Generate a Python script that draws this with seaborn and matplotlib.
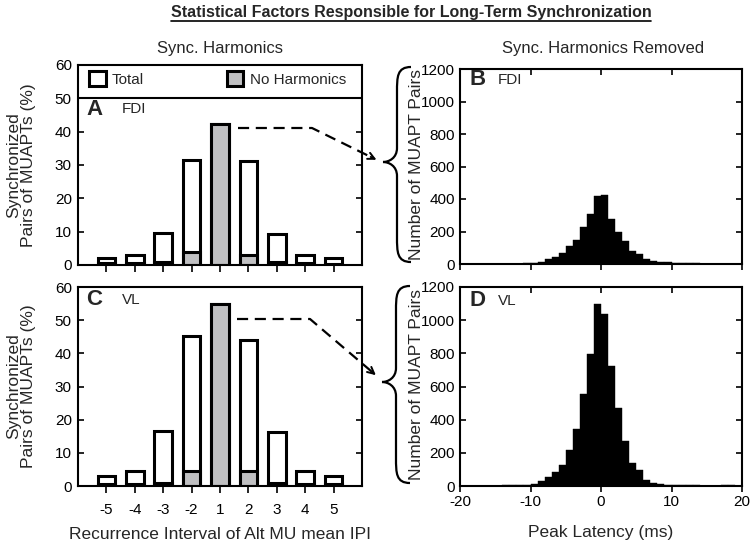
import numpy as np
import pandas as pd
import matplotlib
matplotlib.use('Agg')
import matplotlib.pyplot as plt
import seaborn as sns
from matplotlib.patches import Patch, PathPatch, FancyArrowPatch
from matplotlib.path import Path
from matplotlib.lines import Line2D

# ── data ─────────────────────────────────────────────────────────────────
intervals = ['-5', '-4', '-3', '-2', '1', '2', '3', '4', '5']
fdi_total = [2.2, 2.9, 9.6, 31.5, 42.2, 31.2, 9.3, 3.1, 2.0]
fdi_noharm = [0.6, 0.6, 0.9, 3.8, 42.2, 3.0, 0.9, 0.7, 0.4]
vl_total = [3.0, 4.5, 16.6, 45.2, 55.0, 44.0, 16.2, 4.5, 3.0]
vl_noharm = [0.5, 0.6, 1.0, 4.6, 55.0, 4.4, 1.0, 0.6, 0.5]

lat_left_edges = list(range(-20, 20))   # 1 ms bins
fdi_counts = [3, 3, 3, 2, 2, 2, 2, 3, 3, 4,
              6, 14, 28, 44, 66, 110, 146, 230, 306, 416,
              422, 276, 196, 142, 82, 62, 32, 20, 14, 10,
              6, 5, 4, 4, 3, 3, 3, 2, 2, 2]
vl_counts = [3, 3, 3, 3, 3, 3, 4, 4, 8, 6,
             14, 30, 54, 85, 127, 219, 342, 557, 793, 1096,
             1040, 722, 471, 270, 141, 95, 38, 20, 14, 8,
             6, 5, 8, 4, 3, 3, 3, 4, 4, 3]

sns.set_style('ticks')
plt.rcParams['font.family'] = ['Liberation Sans', 'DejaVu Sans']
plt.rcParams['axes.edgecolor'] = 'black'
plt.rcParams['axes.linewidth'] = 1.5
plt.rcParams['axes.unicode_minus'] = False
plt.rcParams['xtick.color'] = 'black'
plt.rcParams['ytick.color'] = 'black'

W, H = 750, 544
fig = plt.figure(figsize=(7.5, 5.44), dpi=100)


def px(x, y):
    return (x / W, 1 - y / H)


axA = fig.add_axes([78 / W, 1 - 265 / H, 284 / W, 200 / H])
axC = fig.add_axes([78 / W, 1 - 486 / H, 284 / W, 199 / H])
axB = fig.add_axes([460 / W, 1 - 264 / H, 282 / W, 195 / H])
axD = fig.add_axes([460 / W, 1 - 486 / H, 282 / W, 199 / H])

gray = '#c0c0c2'


# --- bar panels (A, C) ---
def bar_panel(ax, total, noharm, show_x):
    sns.barplot(x=intervals, y=total, order=intervals, color='white',
                edgecolor='black', linewidth=2.2, width=0.62, saturation=1,
                errorbar=None, ax=ax)
    sns.barplot(x=intervals, y=noharm, order=intervals, color=gray,
                edgecolor='black', linewidth=2.2, width=0.62, saturation=1,
                errorbar=None, ax=ax)
    ax.set_xlim(-1, 9)
    ax.set_ylim(0, 60)
    ax.set_yticks(range(0, 61, 10))
    ax.tick_params(axis='y', direction='in', left=True, right=True,
                   length=4, width=1.2, pad=4.5, labelsize=11)
    ax.tick_params(axis='x', direction='out', length=5, width=1.2,
                   pad=7, labelsize=11, labelbottom=show_x)
    ax.set_ylabel('Synchronized\nPairs of MUAPTs (%)', fontsize=12.5,
                  va='center', linespacing=1.05)
    ax.yaxis.set_label_coords(-0.2, 0.5)
    ax.set_xlabel('')


bar_panel(axA, fdi_total, fdi_noharm, False)
bar_panel(axC, vl_total, vl_noharm, True)
axC.set_xlabel('Recurrence Interval of Alt MU mean IPI', fontsize=12.5, va='center')
axC.xaxis.set_label_coords(0.5, -0.246)

# legend strip on top of panel A
axA.axhline(50, color='black', lw=1.5)
handles = [Patch(facecolor='white', edgecolor='black', linewidth=2.2, label='Total'),
           Patch(facecolor=gray, edgecolor='black', linewidth=2.2, label='No Harmonics')]
axA.legend(handles=handles, ncol=2, loc='center left', bbox_to_anchor=(0.039, 0.93),
           frameon=False, borderpad=0, borderaxespad=0, handlelength=1.1,
           handleheight=1.1, handletextpad=0.4, columnspacing=5.4, fontsize=11)


# --- histogram panels (B, D) ---
def hist_panel(ax, counts, show_x):
    df = pd.DataFrame({'latency': [e + 0.5 for e in lat_left_edges], 'n': counts})
    sns.histplot(data=df, x='latency', weights='n', binwidth=1, binrange=(-20, 20),
                 color='black', alpha=1, edgecolor='black', linewidth=0.3, ax=ax)
    ax.set_xlim(-20, 20)
    ax.set_ylim(0, 1200)
    ax.set_yticks(range(0, 1201, 200))
    ax.set_xticks(range(-20, 21, 10))
    ax.tick_params(axis='y', direction='in', left=True, right=True,
                   length=4, width=1.2, pad=3.5, labelsize=11)
    ax.tick_params(axis='x', direction='out', length=4, width=1.2,
                   pad=2.5, labelsize=11, labelbottom=show_x)
    sec = ax.secondary_xaxis('top')
    sec.set_xticks(range(-20, 21, 10))
    sec.tick_params(direction='in', length=4, width=1.2, labeltop=False)
    sec.spines['top'].set_visible(False)
    ax.set_ylabel('Number of MUAPT Pairs', fontsize=12.5, va='center')
    ax.yaxis.set_label_coords(-0.155, 0.51)
    ax.set_xlabel('')


hist_panel(axB, fdi_counts, False)
hist_panel(axD, vl_counts, True)
axD.set_xlabel('Peak Latency (ms)', fontsize=12.5, va='center')
axD.xaxis.set_label_coords(0.5, -0.236)

# panel letters and muscle names
for ax, letter, muscle, lx, mx, y in [(axA, 'A', 'FDI', 0.028, 0.155, 0.778),
                                      (axB, 'B', 'FDI', 0.035, 0.133, 0.944),
                                      (axC, 'C', 'VL', 0.028, 0.155, 0.935),
                                      (axD, 'D', 'VL', 0.035, 0.133, 0.93)]:
    ax.text(lx, y, letter, transform=ax.transAxes, fontsize=16,
            fontweight='bold', va='center', ha='left')
    ax.text(mx, y, muscle, transform=ax.transAxes, fontsize=11,
            va='center', ha='left')

# column headings and title
fig.text(*px(220, 49), 'Sync. Harmonics', fontsize=12, ha='center', va='center')
fig.text(*px(603, 49), 'Sync. Harmonics Removed', fontsize=12, ha='center', va='center')
title = fig.text(*px(411, 12), 'Statistical Factors Responsible for Long-Term Synchronization',
                 fontsize=11.5, fontweight='bold', ha='center', va='center')


# --- braces and dashed arrows ---
def brace(x_tip, y_mid, x_body, x_end, y_top, y_bot):
    pts = [(x_end, y_top), (x_body, y_top), (x_body, y_top + 10), (x_body, y_top + 25),
           (x_body, y_mid - 14),
           (x_body, y_mid - 4), (x_tip + 6, y_mid), (x_tip, y_mid),
           (x_tip + 6, y_mid), (x_body, y_mid + 4), (x_body, y_mid + 14),
           (x_body, y_bot - 25),
           (x_body, y_bot - 10), (x_body, y_bot), (x_end, y_bot)]
    codes = [Path.MOVETO, Path.CURVE4, Path.CURVE4, Path.CURVE4, Path.LINETO,
             Path.CURVE4, Path.CURVE4, Path.CURVE4, Path.CURVE4, Path.CURVE4,
             Path.CURVE4, Path.LINETO, Path.CURVE4, Path.CURVE4, Path.CURVE4]
    path = Path([px(x, y) for x, y in pts], codes)
    fig.add_artist(PathPatch(path, facecolor='none', edgecolor='black', lw=1.6,
                             transform=fig.transFigure))


def dashed_arrow(start, corner, tip):
    dx, dy = tip[0] - corner[0], tip[1] - corner[1]
    n = np.hypot(dx, dy)
    near = (tip[0] - dx / n * 9, tip[1] - dy / n * 9)
    xs, ys = zip(*[px(*start), px(*corner), px(*near)])
    fig.add_artist(Line2D(xs, ys, transform=fig.transFigure, color='black',
                          lw=1.6, ls=(0, (5, 3))))
    back = (tip[0] - dx / n * 12, tip[1] - dy / n * 12)
    fig.add_artist(FancyArrowPatch(
        px(*back), px(*tip), transform=fig.transFigure, arrowstyle='->',
        mutation_scale=12, lw=1.4, color='black'))


brace(383, 162, 397, 411, 67, 262)
brace(382, 382, 396, 410, 286, 483)
dashed_arrow((238, 128), (312, 128), (379, 161))
dashed_arrow((237, 319), (310, 319), (378, 377))

# underline the title
fig.canvas.draw()
bb = title.get_window_extent()
fig.add_artist(Line2D([bb.x0 / W, bb.x1 / W], [(bb.y0 - 1) / H] * 2,
                      transform=fig.transFigure, color='black', lw=1.2))

fig.savefig('out.png', dpi=100, facecolor='white')
